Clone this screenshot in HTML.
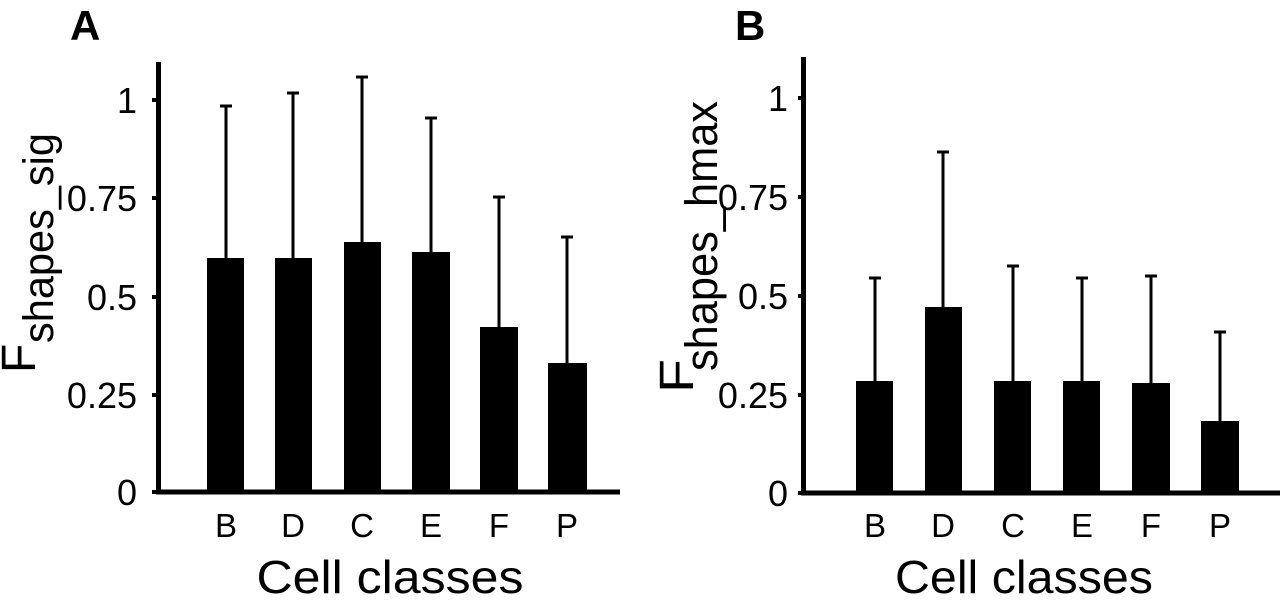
<!DOCTYPE html>
<html><head><meta charset="utf-8"><style>
html,body{margin:0;padding:0;background:#fff;}
svg{display:block;}
text{font-family:"Liberation Sans",Arial,sans-serif;fill:#000;}
</style></head><body>
<svg width="1280" height="603" viewBox="0 0 1280 603" xmlns="http://www.w3.org/2000/svg">
<!-- Panel A -->
<text x="70" y="40" font-size="42" font-weight="bold" fill="#111">A</text>
<line x1="158.5" y1="62" x2="158.5" y2="494" stroke="#000" stroke-width="5"/>
<line x1="156" y1="492" x2="620" y2="492" stroke="#000" stroke-width="5"/>
<g stroke="#000" stroke-width="4">
<line x1="152" y1="100" x2="158" y2="100"/><line x1="152" y1="198" x2="158" y2="198"/>
<line x1="152" y1="297" x2="158" y2="297"/><line x1="152" y1="395" x2="158" y2="395"/>
<line x1="152" y1="492" x2="158" y2="492"/>
</g>
<g font-size="36" text-anchor="end">
<text x="137" y="113">1</text><text x="137" y="211">0.75</text><text x="137" y="310">0.5</text>
<text x="137" y="408">0.25</text><text x="137" y="505">0</text>
</g>
<g fill="#000">
<rect x="207" y="258" width="37" height="234"/>
<rect x="275" y="258" width="37" height="234"/>
<rect x="344" y="242" width="37" height="250"/>
<rect x="412" y="252" width="38" height="240"/>
<rect x="480" y="327" width="38" height="165"/>
<rect x="548" y="363" width="39" height="129"/>
</g>
<g stroke="#000" stroke-width="3">
<line x1="226" y1="106" x2="226" y2="258"/><line x1="220" y1="106" x2="232" y2="106"/>
<line x1="293" y1="93" x2="293" y2="258"/><line x1="287" y1="93" x2="299" y2="93"/>
<line x1="362" y1="77" x2="362" y2="242"/><line x1="356" y1="77" x2="368" y2="77"/>
<line x1="431" y1="118" x2="431" y2="252"/><line x1="425" y1="118" x2="437" y2="118"/>
<line x1="499" y1="197" x2="499" y2="327"/><line x1="493" y1="197" x2="505" y2="197"/>
<line x1="567" y1="237" x2="567" y2="363"/><line x1="561" y1="237" x2="573" y2="237"/>
</g>
<g font-size="33" text-anchor="middle">
<text x="226" y="537">B</text><text x="293" y="537">D</text><text x="362" y="537">C</text>
<text x="431" y="537">E</text><text x="499" y="537">F</text><text x="567" y="537">P</text>
</g>
<text x="390" y="593" font-size="46" text-anchor="middle" textLength="267" lengthAdjust="spacingAndGlyphs">Cell classes</text>
<g transform="translate(35,373) rotate(-90)">
<text x="0" y="0" font-size="48">F</text>
<text x="30" y="18" font-size="43" textLength="210" lengthAdjust="spacingAndGlyphs">shapes_sig</text>
</g>
<!-- Panel B -->
<text x="735" y="40" font-size="42" font-weight="bold" fill="#111">B</text>
<line x1="803.5" y1="57" x2="803.5" y2="495" stroke="#000" stroke-width="5"/>
<line x1="801" y1="493" x2="1280" y2="493" stroke="#000" stroke-width="5"/>
<g stroke="#000" stroke-width="4">
<line x1="798" y1="98" x2="803" y2="98"/><line x1="798" y1="197" x2="803" y2="197"/>
<line x1="798" y1="296" x2="803" y2="296"/><line x1="798" y1="395" x2="803" y2="395"/>
<line x1="798" y1="493" x2="803" y2="493"/>
</g>
<g font-size="36" text-anchor="end">
<text x="788" y="111">1</text><text x="788" y="210">0.75</text><text x="788" y="309">0.5</text>
<text x="788" y="408">0.25</text><text x="788" y="506">0</text>
</g>
<g fill="#000">
<rect x="856" y="381" width="37" height="112"/>
<rect x="925" y="307" width="37" height="186"/>
<rect x="994" y="381" width="37" height="112"/>
<rect x="1063" y="381" width="37" height="112"/>
<rect x="1132" y="383" width="38" height="110"/>
<rect x="1201" y="421" width="38" height="72"/>
</g>
<g stroke="#000" stroke-width="3">
<line x1="875" y1="278" x2="875" y2="381"/><line x1="869" y1="278" x2="881" y2="278"/>
<line x1="943" y1="152" x2="943" y2="307"/><line x1="937" y1="152" x2="949" y2="152"/>
<line x1="1013" y1="266" x2="1013" y2="381"/><line x1="1007" y1="266" x2="1019" y2="266"/>
<line x1="1082" y1="278" x2="1082" y2="381"/><line x1="1076" y1="278" x2="1088" y2="278"/>
<line x1="1151" y1="276" x2="1151" y2="383"/><line x1="1145" y1="276" x2="1157" y2="276"/>
<line x1="1220" y1="332" x2="1220" y2="421"/><line x1="1214" y1="332" x2="1226" y2="332"/>
</g>
<g font-size="33" text-anchor="middle">
<text x="875" y="537">B</text><text x="943" y="537">D</text><text x="1013" y="537">C</text>
<text x="1082" y="537">E</text><text x="1151" y="537">F</text><text x="1220" y="537">P</text>
</g>
<text x="1024" y="593" font-size="46" text-anchor="middle" textLength="258" lengthAdjust="spacingAndGlyphs">Cell classes</text>
<g transform="translate(693,393) rotate(-90)">
<text x="0" y="0" font-size="48" textLength="34" lengthAdjust="spacingAndGlyphs">F</text>
<text x="22" y="24" font-size="45" textLength="270" lengthAdjust="spacingAndGlyphs">shapes_hmax</text>
</g>
</svg>
</body></html>
